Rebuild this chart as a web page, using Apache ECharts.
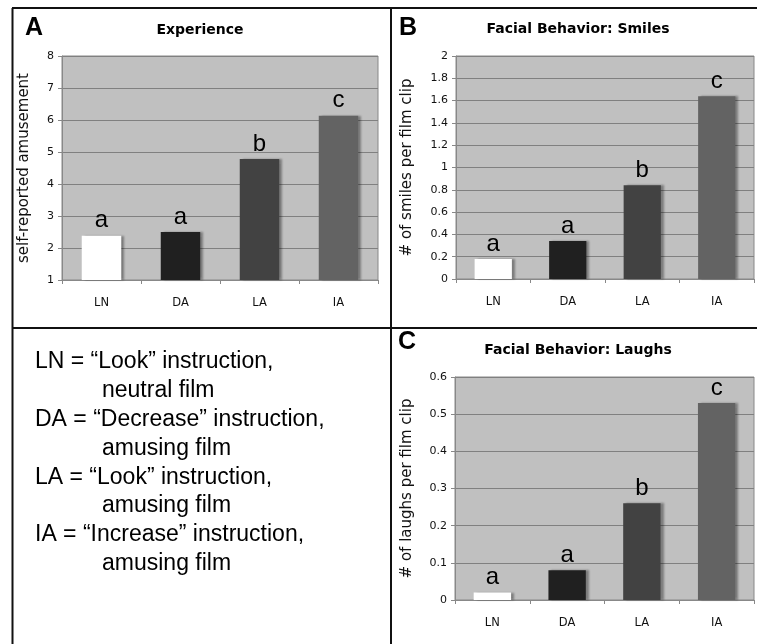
<!DOCTYPE html>
<html><head><meta charset="utf-8">
<script src="https://cdn.jsdelivr.net/npm/echarts@6/dist/echarts.min.js"></script>
<style>html,body{margin:0;padding:0;background:#fff}#c{width:757px;height:644px}</style>
</head><body><div id="c"></div><script>
// ---- data ----
const categories = ['LN', 'DA', 'LA', 'IA'];
const experience = [2.38, 2.5, 4.78, 6.13];
const smiles = [0.18, 0.34, 0.84, 1.64];
const laughs = [0.02, 0.08, 0.26, 0.53];
const groupLetters = ['a', 'a', 'b', 'c'];
const panelTitles = ['Experience', 'Facial Behavior: Smiles', 'Facial Behavior: Laughs'];
const panelLetters = ['A', 'B', 'C'];
const yNames = ['self-reported amusement', '# of smiles per film clip', '# of laughs per film clip'];
const yMins = [1, 0, 0];
const yMaxs = [8, 2, 0.6];
const yIntervals = [1, 0.2, 0.1];
const legendFirst = ['LN = \u201cLook\u201d instruction,', 'DA = \u201cDecrease\u201d instruction,', 'LA = \u201cLook\u201d instruction,', 'IA = \u201cIncrease\u201d instruction,'];
const legendSecond = ['neutral film', 'amusing film', 'amusing film', 'amusing film'];

// ---- styles / layout ----
const barColors = ['#ffffff', '#202020', '#424242', '#636363'];
const grids = [
  {left: 62, top: 56, width: 316, height: 224},
  {left: 456, top: 56, width: 298, height: 223},
  {left: 455, top: 377, width: 299, height: 223}
];
const nameGaps = [30, 41, 40];
const titlePos = [[200, 30], [578, 29], [578, 350]];
const letterPos = [[25, 28], [399, 28], [398, 342]];
const seriesData = [experience, smiles, laughs];

const option = {
  animation: false,
  backgroundColor: '#fff',
  grid: grids.map(g => Object.assign({show: true, backgroundColor: '#c0c0c0', borderColor: '#888', borderWidth: 1}, g)),
  xAxis: grids.map((g, i) => ({
    type: 'category', gridIndex: i, data: categories,
    axisLine: {lineStyle: {color: '#888', width: 1}},
    axisTick: {show: true, length: 4, lineStyle: {color: '#888'}},
    axisLabel: {margin: 17, fontFamily: 'DejaVu Sans', fontSize: 11.5, color: '#111'}
  })),
  yAxis: grids.map((g, i) => ({
    type: 'value', gridIndex: i, min: yMins[i], max: yMaxs[i], interval: yIntervals[i],
    name: yNames[i], nameLocation: 'middle', nameGap: nameGaps[i],
    nameTextStyle: {fontFamily: 'DejaVu Sans', fontSize: 15, color: '#111'},
    axisLine: {show: true, lineStyle: {color: '#888'}},
    axisTick: {show: true, length: 4, lineStyle: {color: '#888'}},
    axisLabel: {margin: 8, fontFamily: 'DejaVu Sans', fontSize: 11, color: '#111'},
    splitLine: {show: true, lineStyle: {color: '#808080', width: 1}}
  })),
  series: seriesData.map((d, i) => ({
    type: 'bar', xAxisIndex: i, yAxisIndex: i, barWidth: '50%',
    data: d.map((v, j) => ({
      value: v,
      itemStyle: {color: barColors[j], shadowColor: 'rgba(0,0,0,0.35)', shadowOffsetX: 3, shadowOffsetY: 0, shadowBlur: 2}
    })),
    label: {
      show: true, position: 'top', distance: 3,
      formatter: p => groupLetters[p.dataIndex],
      fontFamily: 'Liberation Sans', fontSize: 24, color: '#000'
    }
  })),
  graphic: []
};

// frame lines
const frameLines = [
  [12.5, 8, 12.5, 644], [12, 8, 757, 8], [391, 8, 391, 644], [12, 328, 757, 328]
];
frameLines.forEach(l => option.graphic.push({
  type: 'line', shape: {x1: l[0], y1: l[1], x2: l[2], y2: l[3]},
  style: {stroke: '#111', lineWidth: 2}, silent: true
}));
// titles and panel letters
panelTitles.forEach((t, i) => {
  option.graphic.push({type: 'text', x: titlePos[i][0], y: titlePos[i][1],
    style: {text: t, font: 'bold 14px "DejaVu Sans"', fill: '#000', align: 'center', verticalAlign: 'middle'}});
  option.graphic.push({type: 'text', x: letterPos[i][0], y: letterPos[i][1],
    style: {text: panelLetters[i], font: 'bold 25px "Liberation Sans"', fill: '#000', align: 'left', verticalAlign: 'middle'}});
});
// legend text
legendFirst.forEach((t, i) => {
  option.graphic.push({type: 'text', x: 35, y: 362 + (2 * i) * 28.8,
    style: {text: t, font: '23px "Liberation Sans"', fill: '#000', align: 'left', verticalAlign: 'middle'}});
  option.graphic.push({type: 'text', x: 102, y: 362 + (2 * i + 1) * 28.8,
    style: {text: legendSecond[i], font: '23px "Liberation Sans"', fill: '#000', align: 'left', verticalAlign: 'middle'}});
});

const chart = echarts.init(document.getElementById('c'), null, {renderer: 'canvas'});
chart.setOption(option);
</script></body></html>
